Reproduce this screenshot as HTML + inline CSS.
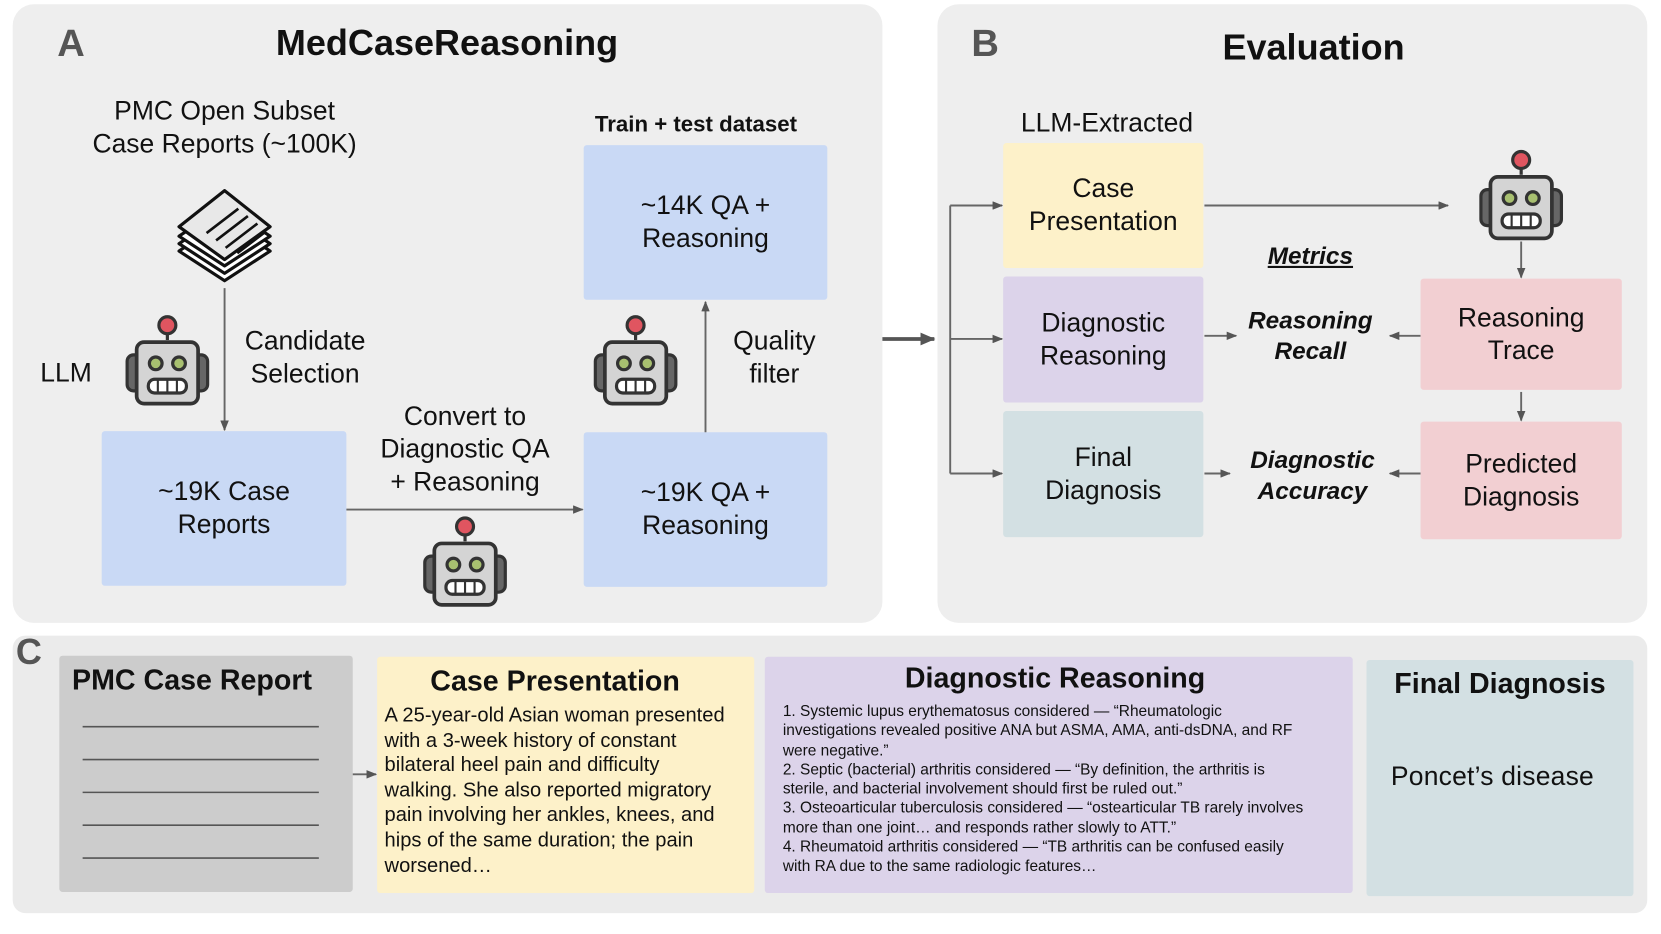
<!DOCTYPE html>
<html><head><meta charset="utf-8"><style>
html,body{margin:0;padding:0;background:#fff;}
body{width:1661px;height:934px;overflow:hidden;position:relative;font-family:"Liberation Sans",Arial,sans-serif;color:#111;}
#s{position:absolute;left:0;top:0;width:1568px;height:882px;transform:scale(1.05931);transform-origin:0 0;}
.a{position:absolute;}
.p{position:absolute;background:#eeeeee;border-radius:20px;}
.box{position:absolute;display:flex;align-items:center;justify-content:center;text-align:center;font-size:25px;line-height:31px;border-radius:3px;}
.c{position:absolute;text-align:center;font-size:25px;line-height:31px;transform:translateX(-50%);white-space:nowrap;}
.bi{font-weight:bold;font-style:italic;font-size:23px;line-height:29px;}
svg{position:absolute;left:0;top:0;overflow:visible;}
</style></head><body><div id="s">
<div class="p" style="left:12px;top:4px;width:821px;height:584px"></div>
<div class="p" style="left:885px;top:4px;width:670px;height:584px"></div>
<div class="p" style="left:12px;top:600px;width:1543px;height:262px;background:#ebebeb;border-radius:12px"></div>

<div class="a" style="left:54px;top:20px;font-size:36px;font-weight:bold;color:#555">A</div>
<div class="c" style="left:422px;top:21px;font-size:34px;font-weight:bold;line-height:40px">MedCaseReasoning</div>
<div class="c" style="left:212px;top:90px">PMC Open Subset<br>Case Reports (~100K)</div>
<div class="a" style="left:38px;top:338px;font-size:25px">LLM</div>
<div class="c" style="left:288px;top:307px">Candidate<br>Selection</div>
<div class="box" style="left:96px;top:407px;width:231px;height:146px;background:#c9d9f5">~19K Case<br>Reports</div>
<div class="c" style="left:439px;top:378px">Convert to<br>Diagnostic QA<br>+ Reasoning</div>
<div class="box" style="left:551px;top:408px;width:230px;height:146px;background:#c9d9f5">~19K QA +<br>Reasoning</div>
<div class="box" style="left:551px;top:137px;width:230px;height:146px;background:#c9d9f5">~14K QA +<br>Reasoning</div>
<div class="c" style="left:657px;top:105px;font-size:21px;font-weight:bold;line-height:26px">Train + test dataset</div>
<div class="c" style="left:731px;top:307px">Quality<br>filter</div>

<div class="a" style="left:917px;top:20px;font-size:36px;font-weight:bold;color:#555">B</div>
<div class="c" style="left:1240px;top:25px;font-size:34px;font-weight:bold;line-height:40px">Evaluation</div>
<div class="c" style="left:1045px;top:101px">LLM-Extracted</div>
<div class="box" style="left:947px;top:135px;width:189px;height:118px;background:#fdf1c9">Case<br>Presentation</div>
<div class="box" style="left:947px;top:261px;width:189px;height:119px;background:#dcd3ea">Diagnostic<br>Reasoning</div>
<div class="box" style="left:947px;top:388px;width:189px;height:119px;background:#d3e0e3">Final<br>Diagnosis</div>
<div class="box" style="left:1341px;top:263px;width:190px;height:105px;background:#f2cfd2">Reasoning<br>Trace</div>
<div class="box" style="left:1341px;top:398px;width:190px;height:111px;background:#f2cfd2">Predicted<br>Diagnosis</div>
<div class="c bi" style="left:1237px;top:227px;text-decoration:underline">Metrics</div>
<div class="c bi" style="left:1237px;top:288px">Reasoning<br>Recall</div>
<div class="c bi" style="left:1239px;top:420px">Diagnostic<br>Accuracy</div>

<div class="a" style="left:15px;top:597px;font-size:34px;font-weight:bold;color:#555">C</div>
<div class="a" style="left:56px;top:619px;width:277px;height:223px;background:#cccccc;border-radius:3px"></div>
<div class="a" style="left:68px;top:627px;font-size:27px;font-weight:bold">PMC Case Report</div>
<div class="a" style="left:356px;top:620px;width:356px;height:223px;background:#fdf1c9;border-radius:3px"></div>
<div class="c" style="left:524px;top:628px;font-size:27px;font-weight:bold">Case Presentation</div>
<div class="a" style="left:363px;top:664px;font-size:19px;line-height:23.6px;white-space:nowrap">A 25-year-old Asian woman presented<br>with a 3-week history of constant<br>bilateral heel pain and difficulty<br>walking. She also reported migratory<br>pain involving her ankles, knees, and<br>hips of the same duration; the pain<br>worsened…</div>
<div class="a" style="left:722px;top:620px;width:555px;height:223px;background:#dcd3ea;border-radius:3px"></div>
<div class="c" style="left:996px;top:625px;font-size:27px;font-weight:bold">Diagnostic Reasoning</div>
<div class="a" style="left:739px;top:663px;font-size:14.6px;line-height:18.3px;white-space:nowrap">1. Systemic lupus erythematosus considered — “Rheumatologic<br>investigations revealed positive ANA but ASMA, AMA, anti-dsDNA, and RF<br>were negative.”<br>2. Septic (bacterial) arthritis considered — “By definition, the arthritis is<br>sterile, and bacterial involvement should first be ruled out.”<br>3. Osteoarticular tuberculosis considered — “ostearticular TB rarely involves<br>more than one joint… and responds rather slowly to ATT.”<br>4. Rheumatoid arthritis considered — “TB arthritis can be confused easily<br>with RA due to the same radiologic features…</div>
<div class="a" style="left:1290px;top:623px;width:252px;height:223px;background:#d3e0e3;border-radius:3px"></div>
<div class="c" style="left:1416px;top:630px;font-size:27px;font-weight:bold">Final Diagnosis</div>
<div class="a" style="left:1313px;top:719px;font-size:25px;letter-spacing:0.2px">Poncet’s disease</div>

<svg width="1568" height="882">
<defs>
<marker id="m" markerWidth="10" markerHeight="8" refX="9" refY="4" orient="auto" markerUnits="userSpaceOnUse"><path d="M0,0 L10,4 L0,8 z" fill="#555"/></marker>
<marker id="mb" markerWidth="14" markerHeight="12" refX="13" refY="6" orient="auto" markerUnits="userSpaceOnUse"><path d="M0,0 L14,6 L0,12 z" fill="#555"/></marker>
<g id="robot">
<line x1="38" y1="12" x2="38" y2="24" stroke="#333" stroke-width="3"/>
<circle cx="38" cy="10" r="8" fill="#e05560" stroke="#333" stroke-width="3"/>
<rect x="0" y="38" width="14" height="34" rx="6" fill="#666" stroke="#333" stroke-width="3"/>
<rect x="62" y="38" width="14" height="34" rx="6" fill="#666" stroke="#333" stroke-width="3"/>
<rect x="9" y="26" width="58" height="58" rx="7" fill="#d4d4d4" stroke="#333" stroke-width="3.5"/>
<circle cx="27" cy="46" r="6" fill="#a8c070" stroke="#333" stroke-width="3"/>
<circle cx="49" cy="46" r="6" fill="#a8c070" stroke="#333" stroke-width="3"/>
<rect x="20" y="61" width="36" height="13" rx="6" fill="#fff" stroke="#333" stroke-width="3"/>
<path d="M29 62v11M38 62v11M47 62v11" stroke="#333" stroke-width="2"/>
</g>
</defs>
<g stroke="#111" stroke-width="3" fill="#fff" stroke-linejoin="round">
<path d="M169 237 L212 208 L255 237 L212 265 Z"/>
<path d="M169 230 L212 201 L255 230 L212 258 Z"/>
<path d="M169 223 L212 194 L255 223 L212 251 Z"/>
<path d="M169 214 L212 180 L255 214 L212 245 Z" fill="#e8e8e8"/>
<path d="M195 220 L225 197 M204 227 L234 204 M213 234 L243 211 M224 239 L249 220" stroke-width="2.5"/>
</g>
<use href="#robot" x="120" y="297"/>
<use href="#robot" x="401" y="487"/>
<use href="#robot" x="562" y="297"/>
<use href="#robot" x="1398" y="141"/>
<g stroke="#666" stroke-width="1.8" fill="none">
<line x1="212" y1="272" x2="212" y2="406" marker-end="url(#m)"/>
<line x1="327" y1="481" x2="550" y2="481" marker-end="url(#m)"/>
<line x1="666" y1="408" x2="666" y2="285" marker-end="url(#m)"/>
<line x1="833" y1="320" x2="882" y2="320" stroke="#555" stroke-width="3.5" marker-end="url(#mb)"/>
<line x1="897" y1="194" x2="897" y2="447"/>
<line x1="897" y1="194" x2="946" y2="194" marker-end="url(#m)"/>
<line x1="897" y1="320" x2="946" y2="320" marker-end="url(#m)"/>
<line x1="897" y1="447" x2="946" y2="447" marker-end="url(#m)"/>
<line x1="1137" y1="194" x2="1367" y2="194" marker-end="url(#m)"/>
<line x1="1436" y1="228" x2="1436" y2="262" marker-end="url(#m)"/>
<line x1="1436" y1="370" x2="1436" y2="397" marker-end="url(#m)"/>
<line x1="1137" y1="317" x2="1167" y2="317" marker-end="url(#m)"/>
<line x1="1341" y1="317" x2="1312" y2="317" marker-end="url(#m)"/>
<line x1="1137" y1="447" x2="1161" y2="447" marker-end="url(#m)"/>
<line x1="1341" y1="447" x2="1312" y2="447" marker-end="url(#m)"/>
<line x1="333" y1="731" x2="355" y2="731" marker-end="url(#m)"/>
</g>
<g stroke="#555" stroke-width="1.5">
<line x1="78" y1="686" x2="301" y2="686"/>
<line x1="78" y1="717" x2="301" y2="717"/>
<line x1="78" y1="748" x2="301" y2="748"/>
<line x1="78" y1="779" x2="301" y2="779"/>
<line x1="78" y1="810" x2="301" y2="810"/>
</g>
</svg>
</div></body></html>
